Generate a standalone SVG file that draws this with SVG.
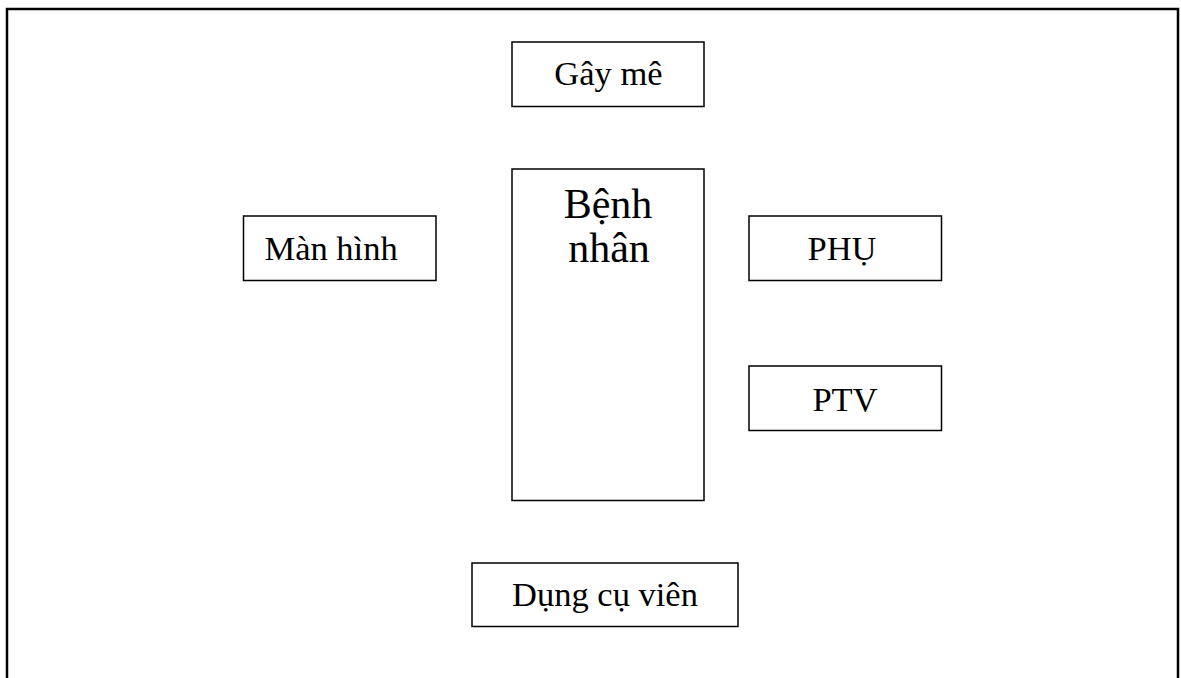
<svg xmlns="http://www.w3.org/2000/svg" width="1181" height="678" viewBox="0 0 1181 678">
<style>
.box{fill:#fff;stroke:#000;stroke-width:1.5}
.t{font-family:"Liberation Serif","Times New Roman",serif;font-size:34.5px;fill:#000}
.big{font-size:42px}
</style>
<rect width="1181" height="678" fill="#fff"/>
<path d="M7,690 V9 H1178 V690" fill="none" stroke="#000" stroke-width="2.5"/>
<g id="gay-me">
<rect class="box" x="512" y="42" width="192" height="64.5"/>
<text class="t" x="608.5" y="85" text-anchor="middle">Gây mê</text>
</g>
<g id="benh-nhan">
<rect class="box" x="512" y="169" width="192" height="331.5"/>
<text class="t big" x="608" y="218" text-anchor="middle">Bệnh</text>
<text class="t big" x="609" y="262" text-anchor="middle">nhân</text>
</g>
<g id="man-hinh">
<rect class="box" x="243.5" y="216" width="192.5" height="64.5"/>
<text class="t" x="264.5" y="260">Màn hình</text>
</g>
<g id="phu">
<rect class="box" x="749" y="216" width="192.5" height="64.5"/>
<text class="t" x="842" y="260" text-anchor="middle">PHỤ</text>
</g>
<g id="ptv">
<rect class="box" x="749" y="366" width="192.5" height="64.5"/>
<text class="t" x="845" y="410.5" text-anchor="middle">PTV</text>
</g>
<g id="dung-cu-vien">
<rect class="box" x="472" y="563" width="266" height="63.5"/>
<text class="t" x="605" y="606" text-anchor="middle">Dụng cụ viên</text>
</g>
<g id="connectors"/>
</svg>
